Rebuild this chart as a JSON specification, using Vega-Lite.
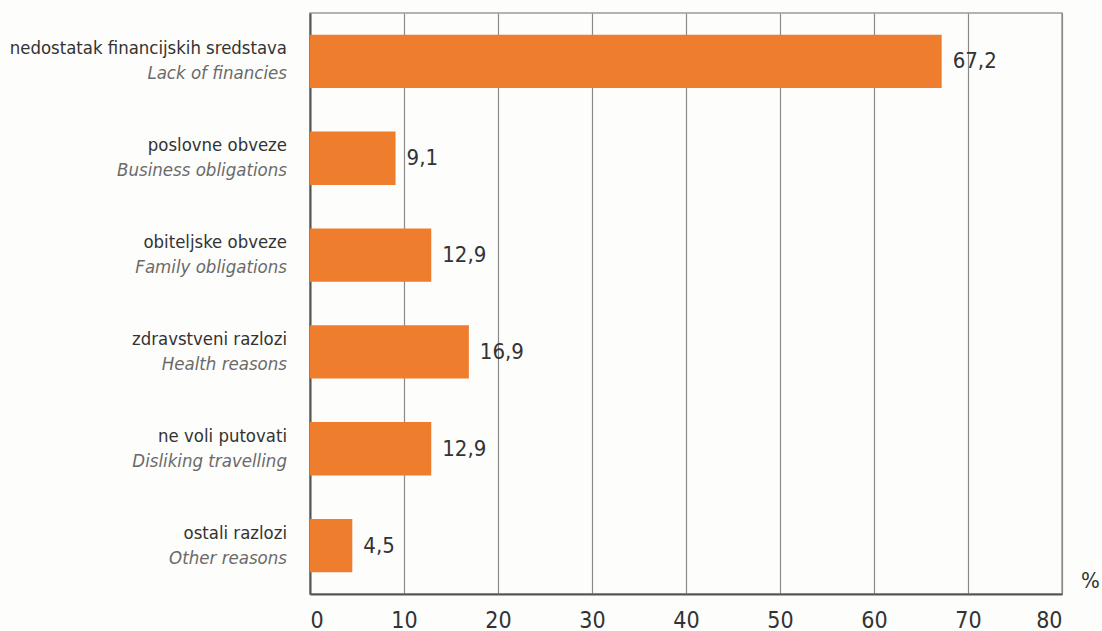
{
  "$schema": "https://vega.github.io/schema/vega-lite/v6.json",
  "width": 752,
  "height": 581,
  "autosize": {"type": "none"},
  "padding": {"left": 310, "top": 13, "right": 40, "bottom": 37},
  "background": "#FDFDFB",
  "config": {
    "font": "'DejaVu Sans Condensed', Roboto, sans-serif",
    "view": {"stroke": "#9a9a9a", "strokeWidth": 1.5}
  },
  "data": {
    "values": [
      {"hr": "nedostatak financijskih sredstava", "en": "Lack of financies", "value": 67.2, "label": "67,2"},
      {"hr": "poslovne obveze", "en": "Business obligations", "value": 9.1, "label": "9,1"},
      {"hr": "obiteljske obveze", "en": "Family obligations", "value": 12.9, "label": "12,9"},
      {"hr": "zdravstveni razlozi", "en": "Health reasons", "value": 16.9, "label": "16,9"},
      {"hr": "ne voli putovati", "en": "Disliking travelling", "value": 12.9, "label": "12,9"},
      {"hr": "ostali razlozi", "en": "Other reasons", "value": 4.5, "label": "4,5"}
    ]
  },
  "encoding": {
    "y": {
      "field": "hr",
      "type": "nominal",
      "sort": null,
      "scale": {"paddingInner": 0.45, "paddingOuter": 0.225},
      "axis": {"labels": false, "ticks": false, "title": null, "domainColor": "#555555", "domainWidth": 2}
    },
    "x": {
      "field": "value",
      "type": "quantitative",
      "scale": {"domain": [0, 80], "nice": false},
      "axis": {
        "values": [0, 10, 20, 30, 40, 50, 60, 70, 80],
        "ticks": false,
        "grid": true,
        "gridColor": "#8a8a8a",
        "gridWidth": 1.2,
        "gridOpacity": 1,
        "domainColor": "#555555",
        "domainWidth": 2,
        "labelFontSize": 23,
        "labelColor": "#333333",
        "labelPadding": 15,
        "title": "%",
        "titleFontSize": 22,
        "titleFontWeight": "normal",
        "titleColor": "#333333",
        "titleAnchor": "start",
        "titleAlign": "center",
        "titleBaseline": "middle",
        "titleX": 780,
        "titleY": -14
      }
    }
  },
  "layer": [
    {"mark": {"type": "bar", "color": "#EE7D2D"}},
    {
      "mark": {"type": "text", "align": "left", "baseline": "middle", "dx": 11, "fontSize": 22, "color": "#333333"},
      "encoding": {"text": {"field": "label"}}
    },
    {
      "mark": {"type": "text", "align": "right", "baseline": "middle", "dx": -23, "dy": -13, "fontSize": 18.4, "color": "#333333"},
      "encoding": {"x": {"datum": 0}, "text": {"field": "hr"}}
    },
    {
      "mark": {"type": "text", "align": "right", "baseline": "middle", "dx": -23, "dy": 12, "fontSize": 18.5, "fontStyle": "italic", "color": "#6a6a6a"},
      "encoding": {"x": {"datum": 0}, "text": {"field": "en"}}
    }
  ]
}
